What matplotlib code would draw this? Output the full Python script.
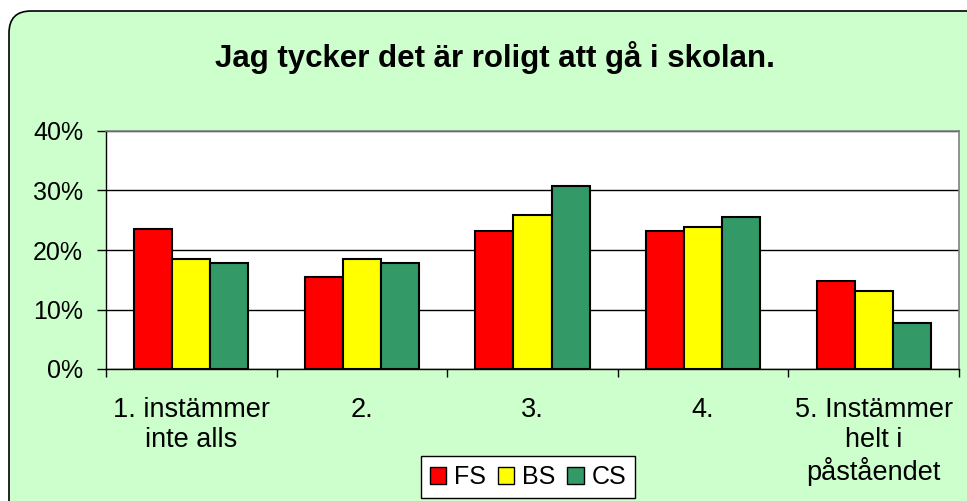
import matplotlib
matplotlib.use('Agg')
import matplotlib.pyplot as plt
from matplotlib.patches import FancyBboxPatch
import numpy as np

plt.rcParams['font.family'] = ['Liberation Sans', 'DejaVu Sans']

categories = ['1. instämmer\ninte alls', '2.', '3.', '4.', '5. Instämmer\nhelt i\npåståendet']
series = ['FS', 'BS', 'CS']
fs = [23.6, 15.5, 23.2, 23.2, 14.8]
bs = [18.5, 18.5, 25.9, 23.8, 13.1]
cs = [17.8, 17.8, 30.8, 25.5, 7.7]
colors = ['#FF0000', '#FFFF00', '#339966']

fig = plt.figure(figsize=(9.67, 5.01), dpi=100)
fig.patch.set_facecolor('white')

# rounded background panel (display coords, pixels)
frame = FancyBboxPatch((9, -30), 1000, 520,
                       boxstyle='round,pad=0,rounding_size=22',
                       transform=None, facecolor='#CCFFCC',
                       edgecolor='black', linewidth=1.2, zorder=-1)
fig.patches.append(frame)

ax = fig.add_axes([106 / 967, 1 - 369 / 501, 853 / 967, 238 / 501])
ax.set_facecolor('white')

x = np.arange(len(categories))
w = 0.223
for i, (vals, col, name) in enumerate(zip([fs, bs, cs], colors, series)):
    ax.bar(x + (i - 1) * w, vals, width=w, color=col, edgecolor='black',
           linewidth=1.5, label=name, zorder=3)

ax.set_xlim(-0.5, len(categories) - 0.5)
ax.set_ylim(0, 40)
ax.set_yticks([0, 10, 20, 30, 40])
ax.set_yticklabels(['0%', '10%', '20%', '30%', '40%'], fontsize=18)
ax.yaxis.grid(True, color='black', linewidth=1, zorder=0)
ax.set_axisbelow(True)

ax.set_xticks(x)
ax.set_xticklabels(categories, fontsize=19.5, linespacing=1.2, va='top')
ax.set_xticks(np.arange(-0.5, len(categories)), minor=True)
ax.tick_params(axis='x', which='major', length=0, pad=20)
ax.tick_params(axis='x', which='minor', length=6, width=1, direction='out')
ax.tick_params(axis='y', length=6.5, width=1, direction='out', pad=10)

for s in ['left', 'bottom']:
    ax.spines[s].set_color('black')
    ax.spines[s].set_linewidth(1)
for s in ['top', 'right']:
    ax.spines[s].set_color('#808080')
    ax.spines[s].set_linewidth(1.2)

fig.text(495 / 967, 1 - 58 / 501, 'Jag tycker det är roligt att gå i skolan.',
         fontsize=22.5, fontweight='bold', ha='center', va='center')

leg = fig.legend(loc='center', bbox_to_anchor=(528 / 967, 1 - 477 / 501),
                 ncol=3, fontsize=18, handlelength=0.65, handleheight=0.65,
                 handletextpad=0.32, columnspacing=0.48, borderpad=0.35,
                 fancybox=False, framealpha=1, edgecolor='black')
leg.get_frame().set_linewidth(1)
for h in leg.legend_handles:
    h.set_linewidth(1)

fig.savefig('out.png', dpi=100)
